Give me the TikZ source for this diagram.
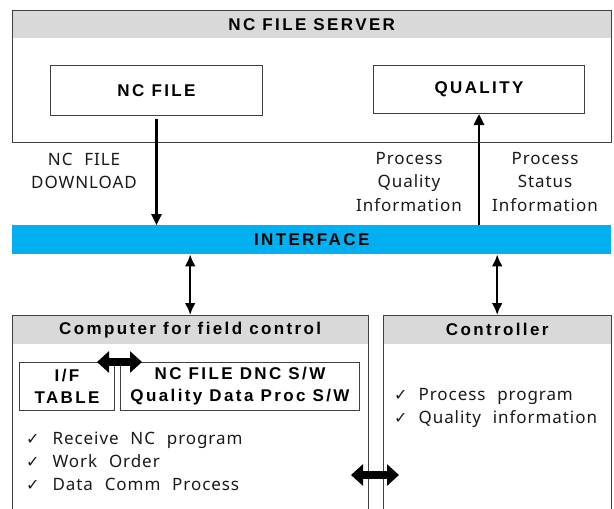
\documentclass[tikz,border=0pt]{standalone}
\usepackage{fontspec}
\setmainfont{Noto Sans}[LetterSpace=5.5, WordSpace=2.2]
\newfontfamily\hdfam{Liberation Sans}[LetterSpace=14]
\newfontfamily\symfam{DejaVu Sans}
\usetikzlibrary{arrows.meta}
\definecolor{hdgray}{HTML}{D9D9D9}
\definecolor{ifblue}{HTML}{00B0F0}
\definecolor{txt}{HTML}{1A1A1A}
\newcommand{\hd}{\hdfam\bfseries\fontsize{17}{22}\selectfont}
\newcommand{\bd}{\fontsize{17}{23.5}\selectfont}
\newcommand{\chk}{{\symfam\fontsize{16}{16}\selectfont ✓}}
\begin{document}
\begin{tikzpicture}[x=1pt,y=-1pt,
  frame/.style={draw=black!75, line width=1pt, inner sep=0pt, anchor=north west},
  hdrband/.style={fill=hdgray, draw=none, inner sep=0pt, anchor=north west, font=\hd},
  lbl/.style={align=center, inner sep=0pt, font=\bd, text=txt},
  item/.style={anchor=base west, inner sep=0pt, font=\bd, text=txt},
  thickarr/.style={line width=2.6pt, -{Triangle[length=11pt,width=10pt]}},
  dblarr/.style={line width=2.3pt, {Latex[length=12pt,width=11pt]}-{Latex[length=12pt,width=11pt]}},
  fatarr/.style={line width=8pt, {Triangle[length=12pt,width=21pt]}-{Triangle[length=12pt,width=21pt]}}
]
\useasboundingbox (0,0) rectangle (614,509);
\clip (0,0) rectangle (614,509);
\fill[white] (0,0) rectangle (614,509);

% server
\node[hdrband, minimum width=599pt, minimum height=28pt] (serverhd) at (12,10) {NC FILE SERVER};
\node[frame, minimum width=599pt, minimum height=132pt] (server) at (12,10) {};
\node[frame, minimum width=212pt, minimum height=50pt, font=\hd] (ncfile) at (50,65) {NC FILE};
\node[frame, minimum width=211pt, minimum height=48pt, font=\hd] (quality) at (373,65) {QUALITY};

% interface
\node[fill=ifblue, minimum width=599pt, minimum height=29pt, inner sep=0pt, anchor=north west, font=\hd] (iface) at (12,225) {INTERFACE};

\draw[thickarr] ([yshift=-3pt]ncfile.south) -- (ncfile.south |- iface.north);
\draw[thickarr] (quality.south |- iface.north) -- (quality.south);

\node[lbl] (dl) at (84,171) {NC FILE\\DOWNLOAD};
\node[lbl] (pq) at (409,182) {Process\\Quality\\Information};
\node[lbl] (ps) at (545,182) {Process\\Status\\Information};

% computer
\node[hdrband, minimum width=356pt, minimum height=29pt] (comphd) at (12,315) {Computer for field control};
\node[frame, minimum width=356pt, minimum height=220pt] (comp) at (12,315) {};
% controller
\node[hdrband, minimum width=228pt, minimum height=29pt] (ctrlhd) at (383,315) {Controller};
\node[frame, minimum width=228pt, minimum height=220pt] (ctrl) at (383,315) {};

\draw[dblarr] (comphd.north |- iface.south) -- (comphd.north);
\draw[dblarr] (ctrlhd.north |- iface.south) -- (ctrlhd.north);

\node[frame, minimum width=95pt, minimum height=48pt, align=center, font=\hd] (iftable) at (19,362) {I/F\\TABLE};
\node[frame, minimum width=239pt, minimum height=48pt, align=center, font=\hd] (dnc) at (120,362) {NC FILE DNC S/W\\Quality Data Proc S/W};

\draw[fatarr] ([xshift=-18pt]iftable.north east) -- ([xshift=22pt]dnc.north west);

\node[item] (l1) at (26,444) {\chk\hspace{13pt}Receive NC program};
\node[item] (l2) at (26,467) {\chk\hspace{13pt}Work Order};
\node[item] (l3) at (26,490) {\chk\hspace{13pt}Data Comm Process};

\node[item] (r1) at (394,400) {\chk\hspace{11pt}Process program};
\node[item] (r2) at (394,423) {\chk\hspace{11pt}Quality information};

\coordinate (fa1) at (351,475);
\coordinate (fa2) at (399,475);
\draw[fatarr] (fa1) -- (fa2);
\end{tikzpicture}
\end{document}
